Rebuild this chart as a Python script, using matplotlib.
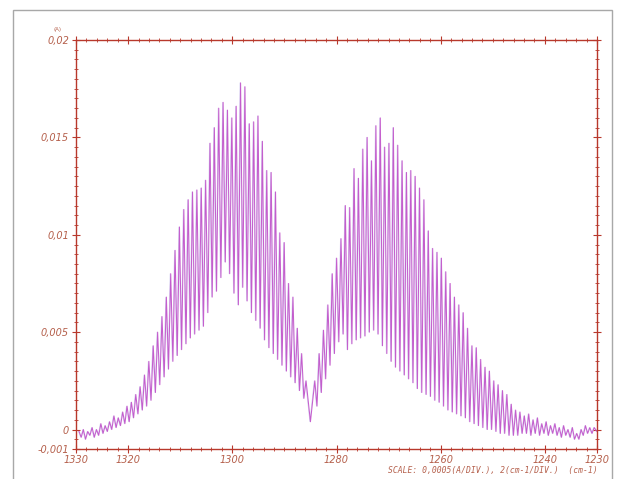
import numpy as np
import matplotlib
matplotlib.use("Agg")
import matplotlib.pyplot as plt
from matplotlib.ticker import FixedLocator, MultipleLocator
from matplotlib.patches import Rectangle

# rotational line positions (cm-1), high -> low wavenumber
line_wn = [
    1329.41, 1328.58, 1327.74, 1326.90, 1326.06, 1325.22, 1324.39, 1323.55, 1322.71, 1321.87,
    1321.03, 1320.20, 1319.36, 1318.52, 1317.68, 1316.84, 1316.01, 1315.17, 1314.33, 1313.49,
    1312.65, 1311.82, 1310.98, 1310.14, 1309.30, 1308.46, 1307.63, 1306.79, 1305.95, 1305.11,
    1304.27, 1303.44, 1302.60, 1301.76, 1300.92, 1300.08, 1299.25, 1298.41, 1297.57, 1296.73,
    1295.89, 1295.06, 1294.22, 1293.38, 1292.54, 1291.70, 1290.87, 1290.03, 1289.19, 1288.35,
    1287.51, 1286.68, 1285.84,
    1284.16, 1283.32, 1282.49, 1281.65, 1280.81, 1279.97, 1279.13, 1278.30, 1277.46, 1276.62,
    1275.78, 1274.94, 1274.11, 1273.27, 1272.43, 1271.59, 1270.75, 1269.92, 1269.08, 1268.24,
    1267.40, 1266.56, 1265.73, 1264.89, 1264.05, 1263.21, 1262.37, 1261.54, 1260.70, 1259.86,
    1259.02, 1258.18, 1257.35, 1256.51, 1255.67, 1254.83, 1253.99, 1253.16, 1252.32, 1251.48,
    1250.64, 1249.80, 1248.97, 1248.13, 1247.29, 1246.45, 1245.61, 1244.78, 1243.94, 1243.10,
    1242.26, 1241.42, 1240.59, 1239.75, 1238.91, 1238.07, 1237.23, 1236.40, 1235.56, 1234.72,
    1233.88, 1233.04, 1232.21, 1231.37, 1230.53,
]

# absorbance at the top of each line
line_top = [
    -0.0001, 0.0000, -0.0001, 0.0001, 0.0000, 0.0003, 0.0002, 0.0004, 0.0007, 0.0006,
    0.0009, 0.0012, 0.0014, 0.0018, 0.0022, 0.0028, 0.0035, 0.0043, 0.0050, 0.0058,
    0.0068, 0.0080, 0.0092, 0.0104, 0.0113, 0.0118, 0.0122, 0.0123, 0.0124, 0.0128,
    0.0147, 0.0155, 0.0165, 0.0168, 0.0164, 0.0160, 0.0166, 0.0178, 0.0176, 0.0157,
    0.0158, 0.0161, 0.0148, 0.0133, 0.0132, 0.0122, 0.0101, 0.0096, 0.0075, 0.0068,
    0.0052, 0.0039, 0.0025,
    0.0025, 0.0039, 0.0051, 0.0064, 0.0080, 0.0088, 0.0098, 0.0115, 0.0114, 0.0134,
    0.0129, 0.0144, 0.0150, 0.0138, 0.0156, 0.0160, 0.0145, 0.0147, 0.0155, 0.0146,
    0.0138, 0.0132, 0.0133, 0.0130, 0.0124, 0.0118, 0.0102, 0.0093, 0.0091, 0.0088,
    0.0081, 0.0075, 0.0068, 0.0064, 0.0060, 0.0052, 0.0043, 0.0042, 0.0036, 0.0032,
    0.0030, 0.0025, 0.0023, 0.0020, 0.0018, 0.0013, 0.0010, 0.0009, 0.0007, 0.0008,
    0.0005, 0.0006, 0.0003, 0.0004, 0.0002, 0.0003, 0.0001, 0.0002, 0.0000, 0.0001,
    -0.0002, 0.0000, 0.0002, 0.0001, 0.0001,
]

# absorbance at the valley following each line
line_low = [
    -0.0004, -0.0005, -0.0003, -0.0004, -0.0003, -0.0002, -0.0001, 0.0000, 0.0001, 0.0002,
    0.0003, 0.0004, 0.0006, 0.0008, 0.0010, 0.0012, 0.0015, 0.0019, 0.0023, 0.0027,
    0.0031, 0.0035, 0.0038, 0.0041, 0.0044, 0.0047, 0.0049, 0.0051, 0.0053, 0.0060,
    0.0068, 0.0071, 0.0078, 0.0086, 0.0080, 0.0070, 0.0064, 0.0073, 0.0066, 0.0060,
    0.0056, 0.0052, 0.0046, 0.0042, 0.0039, 0.0036, 0.0033, 0.0030, 0.0027, 0.0024,
    0.0020, 0.0016, 0.0004,
    0.0012, 0.0019, 0.0026, 0.0033, 0.0039, 0.0045, 0.0049, 0.0041, 0.0044, 0.0046,
    0.0047, 0.0048, 0.0050, 0.0051, 0.0049, 0.0043, 0.0039, 0.0035, 0.0032, 0.0030,
    0.0028, 0.0026, 0.0024, 0.0021, 0.0019, 0.0018, 0.0017, 0.0015, 0.0014, 0.0012,
    0.0010, 0.0009, 0.0008, 0.0007, 0.0006, 0.0004, 0.0003, 0.0002, 0.0001, 0.0000,
    0.0000, -0.0001, -0.0002, -0.0002, -0.0003, -0.0003, -0.0003, -0.0002, -0.0002, -0.0003,
    -0.0002, -0.0003, -0.0002, -0.0003, -0.0002, -0.0003, -0.0004, -0.0003, -0.0004, -0.0005,
    -0.0005, -0.0003, -0.0002, -0.0002, -0.0001,
]

x_ticks = [1330, 1320, 1300, 1280, 1260, 1240, 1230]
x_labels = ["1330", "1320", "1300", "1280", "1260", "1240", "1230"]
y_ticks = [-0.001, 0, 0.005, 0.01, 0.015, 0.02]
y_labels = ["-0,001", "0", "0,005", "0,01", "0,015", "0,02"]

axis_col = "#b8382c"
text_col = "#b5604c"
trace_col = "#c04fc8"

# build the zig-zag trace: peak, then valley half way to the next line
wn = np.array(line_wn)
valley_wn = np.append((wn[:-1] + wn[1:]) / 2, 1230.0)
xs = np.empty(2 * len(wn))
ys = np.empty(2 * len(wn))
xs[0::2] = wn
xs[1::2] = valley_wn
ys[0::2] = line_top
ys[1::2] = line_low

fig = plt.figure(figsize=(6.28, 4.79), dpi=100)
ax = fig.add_axes([76 / 628, 1 - 449 / 479, 521 / 628, 409 / 479])

# thin bluish ghost plus the magenta trace, like the scanned plotter ink
ax.plot(xs + 0.12, ys, color="#9b8fe0", lw=0.5, alpha=0.45)
ax.plot(xs, ys, color=trace_col, lw=0.75, alpha=0.9)

ax.set_xlim(1330, 1230)
ax.set_ylim(-0.001, 0.02)

ax.xaxis.set_major_locator(FixedLocator(x_ticks))
ax.set_xticklabels(x_labels)
ax.xaxis.set_minor_locator(MultipleLocator(2))
ax.yaxis.set_major_locator(FixedLocator(y_ticks))
ax.set_yticklabels(y_labels)
ax.yaxis.set_minor_locator(MultipleLocator(0.0005))

ax.tick_params(which="both", direction="inout", top=True, right=True,
               color=axis_col, labelcolor=text_col, labelsize=7)
ax.tick_params(which="major", length=6, width=0.8)
ax.tick_params(which="minor", length=3, width=0.6)
ax.tick_params(axis="x", pad=1.5)
ax.tick_params(axis="y", pad=2)
for lab in ax.get_xticklabels() + ax.get_yticklabels():
    lab.set_fontstyle("italic")
for sp in ax.spines.values():
    sp.set_color(axis_col)
    sp.set_linewidth(1.0)

fig.text(58 / 628, 1 - 30 / 479, "(A)", fontsize=4, color=text_col, ha="center", va="center")
fig.text(598 / 628, 1 - 471 / 479, "SCALE: 0,0005(A/DIV.), 2(cm-1/DIV.)  (cm-1)",
         fontsize=5.8, color=text_col, ha="right", va="center",
         family="DejaVu Sans Mono", style="italic")

# grey border of the scanned page
fig.patches.append(Rectangle((13 / 628, -0.01), 599 / 628, 1 - 10 / 479 + 0.01,
                             transform=fig.transFigure, fill=False,
                             edgecolor="#a8a8a8", lw=1.0))

fig.savefig("out.png", dpi=100)
